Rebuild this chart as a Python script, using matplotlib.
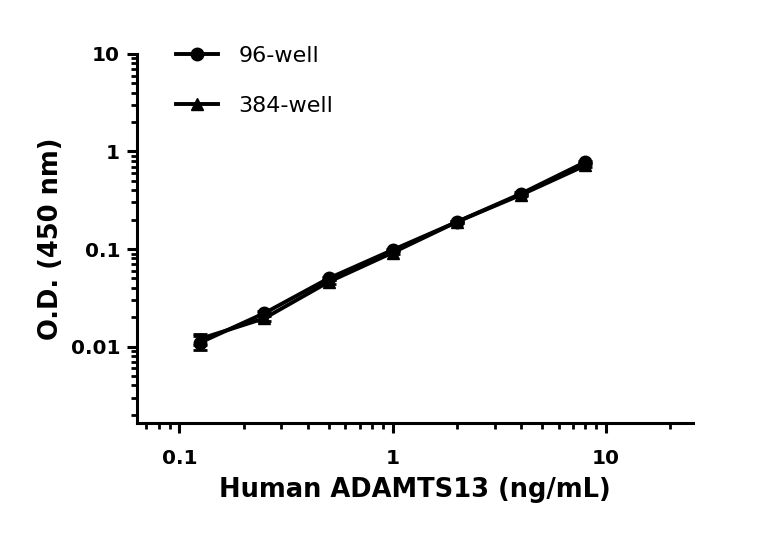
import numpy as np
import matplotlib
matplotlib.use("Agg")
import matplotlib.pyplot as plt
from matplotlib.lines import Line2D
from matplotlib.ticker import LogLocator, FixedLocator, FixedFormatter, NullFormatter

conc = [0.125, 0.25, 0.5, 1, 2, 4, 8]
od_96 = [0.011, 0.022, 0.050, 0.098, 0.19, 0.37, 0.78]
err_96 = [0.0018, 0.001, 0.002, 0.003, 0.006, 0.01, 0.02]
od_384 = [0.012, 0.0195, 0.046, 0.092, 0.19, 0.36, 0.72]
err_384 = [0.0015, 0.001, 0.002, 0.003, 0.006, 0.01, 0.02]

xticks = [0.1, 1, 10]
xtick_labels = ["0.1", "1", "10"]
yticks = [0.01, 0.1, 1, 10]
ytick_labels = ["0.01", "0.1", "1", "10"]

fig = plt.figure(figsize=(7.68, 5.34), dpi=100)
ax = fig.add_axes([0.178, 0.208, 0.724, 0.691])

ax.errorbar(conc, od_96, yerr=err_96, color='k', marker='o', ms=9, lw=2.8,
            capsize=5, elinewidth=2, capthick=2, zorder=3)
ax.errorbar(conc, od_384, yerr=err_384, color='k', marker='^', ms=9, lw=2.8,
            capsize=5, elinewidth=2, capthick=2, zorder=3)

ax.set_xscale('log')
ax.set_yscale('log')
ax.set_xlim(0.063, 25.5)
ax.set_ylim(0.00165, 10)

ax.xaxis.set_major_locator(FixedLocator(xticks))
ax.xaxis.set_major_formatter(FixedFormatter(xtick_labels))
ax.xaxis.set_minor_locator(LogLocator(base=10, subs=np.arange(2, 10) * 1.0, numticks=20))
ax.xaxis.set_minor_formatter(NullFormatter())
ax.yaxis.set_major_locator(FixedLocator(yticks))
ax.yaxis.set_major_formatter(FixedFormatter(ytick_labels))
ax.yaxis.set_minor_locator(LogLocator(base=10, subs=np.arange(2, 10) * 1.0, numticks=20))
ax.yaxis.set_minor_formatter(NullFormatter())

for s in ['top', 'right']:
    ax.spines[s].set_visible(False)
for s in ['left', 'bottom']:
    ax.spines[s].set_linewidth(2.2)

ax.tick_params(which='major', length=7, width=2.2, labelsize=14.5)
ax.tick_params(axis='x', which='major', pad=12)
ax.tick_params(axis='y', which='major', pad=5)
ax.tick_params(which='minor', length=4, width=2.0)
for lab in ax.get_xticklabels() + ax.get_yticklabels():
    lab.set_fontweight('bold')

ax.set_xlabel("Human ADAMTS13 (ng/mL)", fontsize=18.5, fontweight='bold', labelpad=6)
ax.set_ylabel("O.D. (450 nm)", fontsize=18.5, fontweight='bold', labelpad=5)

handles = [Line2D([], [], color='k', marker='o', ms=9, lw=2.8),
           Line2D([], [], color='k', marker='^', ms=9, lw=2.8)]
ax.legend(handles, ['96-well', '384-well'], loc='upper left', frameon=False,
          fontsize=16, handlelength=1.9, handletextpad=0.9, labelspacing=1.35,
          bbox_to_anchor=(0.035, 1.075))

fig.savefig('out.png', dpi=100)
